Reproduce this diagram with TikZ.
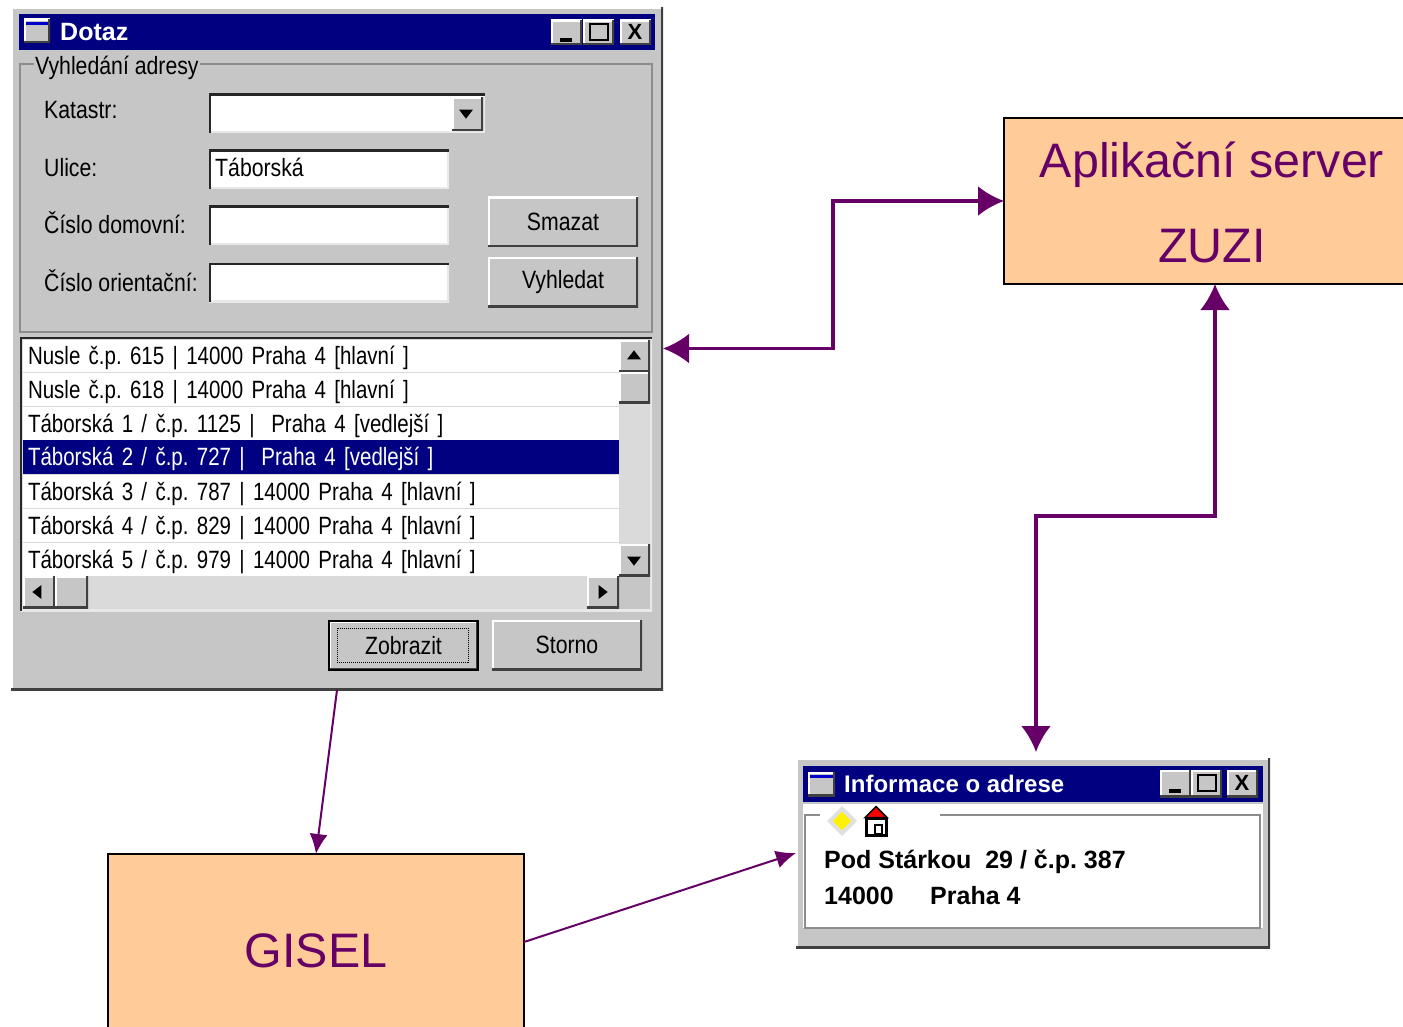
\documentclass[tikz,border=0pt]{standalone}
\usepackage{fontspec}
\setmainfont{Liberation Sans}
\newfontfamily\winfont[FakeStretch=0.85]{Liberation Sans}
\newfontfamily\listfont[FakeStretch=0.82,WordSpace=0.7]{Liberation Sans}
\newfontfamily\winbold[FakeStretch=1.0]{Liberation Sans Bold}
\usetikzlibrary{shapes.geometric,arrows.meta}
\definecolor{wingray}{HTML}{C6C6C6}
\definecolor{wintrack}{HTML}{DADADA}
\definecolor{winblue}{HTML}{000080}
\definecolor{serverfill}{HTML}{FFCC99}
\definecolor{linkpurple}{HTML}{660066}

\tikzset{
  box/.style={anchor=north west,inner sep=0,outer sep=0},
  raised/.style={box,fill=wingray,font=\winfont\fontsize{25}{25}\selectfont,
    path picture={
      \draw[white,line width=4] (path picture bounding box.south west) -- (path picture bounding box.north west) -- (path picture bounding box.north east);
      \draw[black!75,line width=4] (path picture bounding box.north east) -- (path picture bounding box.south east) -- (path picture bounding box.south west);}},
  sunken/.style={box,fill=white,
    path picture={
      \draw[wingray!40,line width=4] (path picture bounding box.north east) -- (path picture bounding box.south east) -- (path picture bounding box.south west);
      \draw[black!85,line width=4] (path picture bounding box.south west) -- (path picture bounding box.north west) -- (path picture bounding box.north east);}},
  etched/.style={box,draw=black!45,line width=2},
  caption/.style={anchor=west,inner sep=0,font=\winfont\fontsize{25}{25}\selectfont\frenchspacing,text height=17,text depth=0},
  rowitem/.style={box,fill=white,minimum height=32,text width=586,inner xsep=5,align=left,
    font=\listfont\fontsize{25}{25}\selectfont\frenchspacing,text height=17,text depth=0},
  titlebar/.style={box,fill=winblue,text=white},
  titletext/.style={anchor=west,inner sep=0,text=white,font=\winbold\fontsize{25}{25}\selectfont,text height=17,text depth=0},
  boldtext/.style={anchor=west,inner sep=0,font=\winbold\fontsize{25}{25}\selectfont\frenchspacing,text height=17,text depth=0},
  glyph/.style={inner sep=0,font=\winbold\fontsize{22}{22}\selectfont},
  tip/.style={isosceles triangle,isosceles triangle apex angle=75,fill=black,inner sep=0,minimum height=8,minimum width=14},
  server/.style={box,fill=serverfill,draw=black,line width=1.6,text=linkpurple,align=center,
    font=\fontsize{48.4}{85}\selectfont},
  biglink/.style={draw=linkpurple,line width=3.6,{Latex[length=26,width=30]}-{Latex[length=26,width=30]}},
  thinlink/.style={draw=linkpurple,line width=2,-{Latex[length=20,width=18]}}
}

\begin{document}
\begin{tikzpicture}[x=1pt,y=-1pt]
  \useasboundingbox (0,0) rectangle (1403,1027);
  \clip (0,0) rectangle (1403,1027);

  % Dotaz window (search form)

  \begin{scope}
    \node [raised,minimum width=652,minimum height=683] (dotaz) at (11,7) {};
    \node [titlebar,minimum width=636,minimum height=36] (dotaz-title) at (19,14) {};
    \node [raised,minimum width=26,minimum height=24] (dotaz-icon) at (24,19) {};
    \node [box,fill=blue!80!black,minimum width=22,minimum height=3] (dotaz-iconbar) at (26,22) {};
    \node [titletext] (dotaz-name) at (60,32) {Dotaz};
    \node [raised,minimum width=31,minimum height=25] (dotaz-min) at (551,20) {};
    \node [box,fill=black,minimum width=12,minimum height=4] (dotaz-mindash) at (560,38) {};
    \node [raised,minimum width=31,minimum height=25] (dotaz-max) at (583,20) {};
    \node [box,draw=black,line width=2,minimum width=18,minimum height=16] (dotaz-maxbox) at (590,24) {};
    \node [raised,minimum width=31,minimum height=25] (dotaz-close) at (620,20) {};
    \node [glyph] (dotaz-x) at (635,32) {X};

    \node [etched,minimum width=632,minimum height=268] (adresa) at (20,64) {};
    \node [caption,fill=wingray,inner xsep=1] (adresa-name) at (34,66) {Vyhledání adresy};
    \node [caption] (katastr) at (44,110) {Katastr:};
    \node [caption] (ulice) at (44,168) {Ulice:};
    \node [caption] (domovni) at (44,225) {Číslo domovní:};
    \node [caption] (orient) at (44,283) {Číslo orientační:};

    \node [sunken,minimum width=276,minimum height=39] (katastr-box) at (209,94) {};
    \node [raised,minimum width=31,minimum height=34] (katastr-btn) at (452,97) {};
    \node [tip,shape border rotate=-90] (katastr-tip) at (466,113) {};
    \node [sunken,minimum width=240,minimum height=39] (ulice-box) at (209,150) {};
    \node [caption] (ulice-text) at (215,168) {Táborská};
    \node [sunken,minimum width=240,minimum height=39] (domovni-box) at (209,206) {};
    \node [sunken,minimum width=240,minimum height=39] (orient-box) at (209,263) {};

    \node [raised,minimum width=150,minimum height=50] (smazat) at (488,197) {Smazat};
    \node [raised,minimum width=150,minimum height=50] (vyhledat) at (488,257) {Vyhledat};

    % result list

    \node [sunken,fill=wintrack,minimum width=632,minimum height=274] (seznam) at (20,337) {};
    \node [box,fill=wingray,minimum width=31,minimum height=33] (sb-corner) at (619,576) {};
    \node [rowitem,minimum height=32] (r1) at (23,340) {Nusle č.p. 615 | 14000 Praha 4 [hlavní ]};
    \node [rowitem,minimum height=33] (r2) at (23,373) {Nusle č.p. 618 | 14000 Praha 4 [hlavní ]};
    \node [rowitem,minimum height=33] (r3) at (23,407) {Táborská 1 / č.p. 1125 |\ \ Praha 4 [vedlejší ]};
    \node [rowitem,fill=winblue,text=white,minimum height=34] (r4) at (23,440) {Táborská 2 / č.p. 727 |\ \ Praha 4 [vedlejší ]};
    \node [rowitem,minimum height=33] (r5) at (23,475) {Táborská 3 / č.p. 787 | 14000 Praha 4 [hlavní ]};
    \node [rowitem,minimum height=33] (r6) at (23,509) {Táborská 4 / č.p. 829 | 14000 Praha 4 [hlavní ]};
    \node [rowitem,minimum height=33] (r7) at (23,543) {Táborská 5 / č.p. 979 | 14000 Praha 4 [hlavní ]};

    \node [raised,minimum width=31,minimum height=32] (sb-up) at (619,340) {};
    \node [tip,shape border rotate=90] (sb-uptip) at (634,356) {};
    \node [raised,minimum width=31,minimum height=31] (sb-thumb) at (619,372) {};
    \node [raised,minimum width=31,minimum height=32] (sb-down) at (619,544) {};
    \node [tip,shape border rotate=-90] (sb-downtip) at (634,560) {};
    \node [raised,minimum width=32,minimum height=32] (sb-left) at (23,576) {};
    \node [tip,shape border rotate=180] (sb-lefttip) at (38,592) {};
    \node [raised,minimum width=33,minimum height=32] (sb-hthumb) at (55,576) {};
    \node [raised,minimum width=32,minimum height=32] (sb-right) at (587,576) {};
    \node [tip,shape border rotate=0] (sb-righttip) at (602,592) {};

    \node [raised,draw=black,line width=2,minimum width=149,minimum height=49] (zobrazit) at (329,621) {Zobrazit};
    \node [box,draw=black,densely dotted,line width=1,minimum width=131,minimum height=34] (zobrazit-focus) at (337,628) {};
    \node [raised,minimum width=150,minimum height=50] (storno) at (492,620) {Storno};
  \end{scope}

  % Informace o adrese window

  \begin{scope}
    \node [raised,minimum width=474,minimum height=190] (info) at (796,758) {};
    \node [box,fill=white,minimum width=460,minimum height=124] (info-body) at (803,804) {};
    \node [titlebar,minimum width=460,minimum height=36] (info-title) at (803,766) {};
    \node [raised,minimum width=27,minimum height=24] (info-icon) at (808,772) {};
    \node [box,fill=blue!80!black,minimum width=23,minimum height=3] (info-iconbar) at (810,775) {};
    \node [titletext] (info-name) at (844,784) {\fontsize{24}{24}\selectfont Informace o adrese};
    \node [raised,minimum width=31,minimum height=27] (info-min) at (1160,770) {};
    \node [box,fill=black,minimum width=12,minimum height=4] (info-mindash) at (1169,789) {};
    \node [raised,minimum width=31,minimum height=27] (info-max) at (1191,770) {};
    \node [box,draw=black,line width=2,minimum width=18,minimum height=16] (info-maxbox) at (1198,775) {};
    \node [raised,minimum width=31,minimum height=27] (info-close) at (1227,770) {};
    \node [glyph] (info-x) at (1242,783) {X};
    \node [etched,minimum width=455,minimum height=113] (info-frame) at (805,815) {};
    \node [box,fill=white,minimum width=120,minimum height=12] (info-gap) at (820,808) {};
    \node [diamond,fill=yellow,draw=black!12,line width=4,inner sep=0,minimum width=26,minimum height=26] (info-sign) at (842,821) {};
    \node [box,fill=white,draw=black,line width=3,minimum width=20,minimum height=17] (info-house) at (866,818) {};
    \node [isosceles triangle,shape border rotate=90,isosceles triangle apex angle=90,fill=red,draw=black,line width=1.5,inner sep=0,minimum height=10,minimum width=22] (info-roof) at (876,813) {};
    \node [box,draw=black,line width=2,minimum width=7,minimum height=9] (info-door) at (875,825) {};
    \node [boldtext] (info-street) at (824,860) {Pod Stárkou\ \ 29 / č.p. 387};
    \node [boldtext] (info-zip) at (824,896) {14000};
    \node [boldtext] (info-city) at (930,896) {Praha 4};
  \end{scope}

  % Servers

  \node [server,minimum width=422,minimum height=166] (zuzi) at (1004,118) {\rule{0pt}{39pt}Aplikační server\kern 6pt\\ZUZI\kern 6pt};
  \node [server,text height=50,text depth=0,minimum width=416,minimum height=176] (gisel) at (108,854) {GISEL};

  % Connections

  \draw [biglink] (dotaz.east) -- ++(170,0) |- (zuzi.west);
  \draw [biglink] (zuzi.south) -- ++(0,232) -| ([shift={(3,-6)}]info.north);
  \draw [thinlink] (dotaz.south) -- (gisel.north);
  \draw [thinlink] (gisel.east) -- (info.west);
\end{tikzpicture}
\end{document}
